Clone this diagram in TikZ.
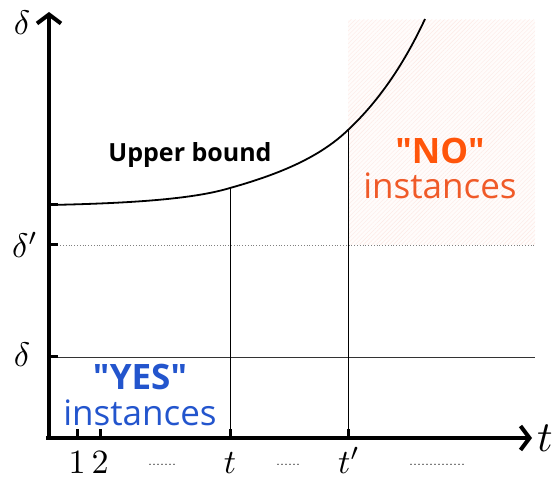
\documentclass[tikz,border=0pt]{standalone}
\usepackage{fontspec}
\newfontfamily\osans{Open Sans}
\usetikzlibrary{arrows.meta,patterns.meta}
\definecolor{noorange}{RGB}{255,85,10}
\definecolor{noorange2}{RGB}{240,90,40}
\definecolor{yesblue}{RGB}{35,85,205}
\definecolor{hatchpink}{RGB}{253,233,229}
\definecolor{shadepink}{RGB}{255,252,251}
\newcommand{\biglbl}[2][3.4]{\scalebox{#1}{$#2$}}
\tikzset{
  axisline/.style={line width=4pt,-{Straight Barb[length=9pt,width=24pt,line width=4pt]}},
  tickmark/.style={line width=3pt},
  guide/.style={line width=0.8pt,black},
  mathlbl/.style={inner sep=0pt,anchor=base},
  dotlbl/.style={inner sep=0pt,font=\fontsize{16}{18}\selectfont},
  sanslbl/.style={inner sep=0pt,align=center,anchor=base},
  bigfont/.style={font=\osans\bfseries\fontsize{35}{40}\selectfont},
  smallfont/.style={font=\osans\fontsize{35}{40}\selectfont}
}
\begin{document}
\begin{tikzpicture}[x=1pt,y=-1pt]
\useasboundingbox (0,0) rectangle (555,481);
% shaded NO region
\fill[shadepink] (348,20) rectangle (535,245);
\fill[pattern={Lines[angle=45,distance=3pt,line width=0.4pt]},pattern color=hatchpink] (348,20) rectangle (535,245);
% coordinates
\coordinate (O) at (49,438);
\coordinate (ytop) at (49,12);
\coordinate (xend) at (532,438);
\coordinate (dpL) at (49,245);
\coordinate (dpR) at (535,245);
\coordinate (dL) at (49,357);
\coordinate (dR) at (535,357);
\coordinate (tB) at (230,438);
\coordinate (tT) at (230,188);
\coordinate (tpB) at (348,438);
\coordinate (tpT) at (348,130);
\coordinate (cStart) at (49,205);
\coordinate (cEnd) at (425,19);
% guide lines
\draw[gray,line width=0.8pt,dotted] (dpL) -- (dpR);
\draw[black!80,line width=0.9pt] (dL) -- (dR);
\draw[guide] (tB) -- (tT);
\draw[guide] (tpB) -- (tpT);
% curve
\draw[line width=1.8pt] (cStart) .. controls (150,203) and (200,197) .. (tT)
  .. controls (280,174) and (320,157) .. (tpT)
  .. controls (380,100) and (405,62) .. (cEnd);
% ticks
\draw[tickmark] (cStart) -- (58,205);
\draw[tickmark] (dpL) -- (58,245);
\draw[tickmark] (dL) -- (58,357);
\draw[tickmark] (77,438) -- (77,429);
\draw[tickmark] (100,438) -- (100,429);
\draw[tickmark] (tB) -- (230,429);
\draw[tickmark] (tpB) -- (348,429);
% axes
\draw[axisline] (46,438) -- (xend);
\draw[axisline] (49,440) -- (ytop);
% axis labels
\node[mathlbl] (lbldelta) at (22,35) {\biglbl{\delta}};
\node[mathlbl] (lbldp) at (25,258) {\biglbl{\delta'}};
\node[mathlbl] (lbld) at (22,367) {\biglbl{\delta}};
\node[mathlbl] (lblt) at (545,452) {\biglbl[4.3]{t}};
\node[mathlbl] (lbl1) at (77,473) {\biglbl{1}};
\node[mathlbl] (lbl2) at (100,473) {\biglbl{2}};
\node[mathlbl] (lbltt) at (230,473) {\biglbl{t}};
\node[mathlbl] (lbltp) at (349,473) {\biglbl{t'}};
\node[dotlbl,anchor=base] (dots1) at (162,465) {.......};
\node[dotlbl,anchor=base] (dots2) at (288,465) {......};
\node[dotlbl,anchor=base] (dots3) at (437,465) {..............};
% texts
\node[sanslbl,anchor=center,font=\osans\bfseries\fontsize{25}{30}\selectfont] (ub) at (190,155) {Upper bound};
\node[sanslbl,bigfont,text=noorange,text depth=0pt] (no) at (440,164) {"NO"};
\node[sanslbl,smallfont,text=noorange2,text height=19pt] (noi) at (440,199) {instances};
\node[sanslbl,bigfont,text=yesblue,text depth=0pt] (yes) at (140,390) {"YES"};
\node[sanslbl,smallfont,text=yesblue,text height=19pt] (yesi) at (140,426) {instances};
\end{tikzpicture}
\end{document}
